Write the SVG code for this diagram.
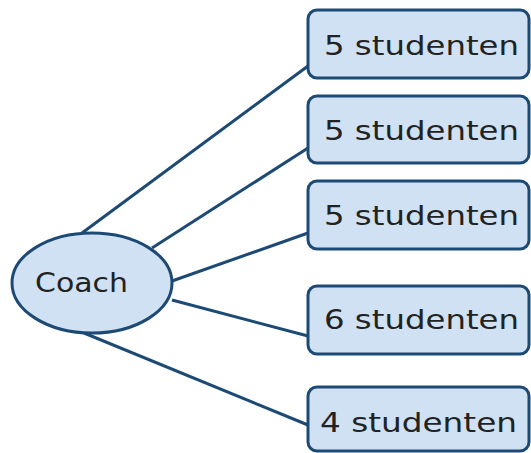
<svg xmlns="http://www.w3.org/2000/svg" width="531" height="453" viewBox="0 0 531 453">
<style>
.n{fill:#cfe1f3;stroke:#1d4a75;stroke-width:3}
.c{stroke:#1d4a75;stroke-width:3;fill:none}
.t{font-family:"DejaVu Sans",Verdana,sans-serif;font-size:27px;fill:#222}
</style>
<rect width="531" height="453" fill="#fff"/>
<g id="connectors">
<line class="c" x1="82" y1="233" x2="308" y2="66"/>
<line class="c" x1="152" y1="248" x2="308" y2="148"/>
<line class="c" x1="172" y1="281" x2="308" y2="233"/>
<line class="c" x1="172" y1="300" x2="308" y2="336"/>
<line class="c" x1="84" y1="333" x2="308" y2="425"/>
</g>
<g id="coach">
<ellipse class="n" cx="92" cy="283" rx="80" ry="50"/>
<text class="t" x="35" y="292" font-size="26" textLength="93" lengthAdjust="spacingAndGlyphs">Coach</text>
</g>
<g id="b1"><rect class="n" x="308" y="10" width="221" height="68" rx="9"/><text class="t" x="324" y="55" textLength="195" lengthAdjust="spacingAndGlyphs">5 studenten</text></g>
<g id="b2"><rect class="n" x="308" y="96" width="221" height="67" rx="9"/><text class="t" x="324" y="140" textLength="195" lengthAdjust="spacingAndGlyphs">5 studenten</text></g>
<g id="b3"><rect class="n" x="308" y="181" width="221" height="68" rx="9"/><text class="t" x="324" y="225" textLength="195" lengthAdjust="spacingAndGlyphs">5 studenten</text></g>
<g id="b4"><rect class="n" x="308" y="286" width="221" height="68" rx="9"/><text class="t" x="324" y="329" textLength="195" lengthAdjust="spacingAndGlyphs">6 studenten</text></g>
<g id="b5"><rect class="n" x="308" y="387" width="221" height="64" rx="9"/><text class="t" x="320" y="432" textLength="197" lengthAdjust="spacingAndGlyphs">4 studenten</text></g>
</svg>
